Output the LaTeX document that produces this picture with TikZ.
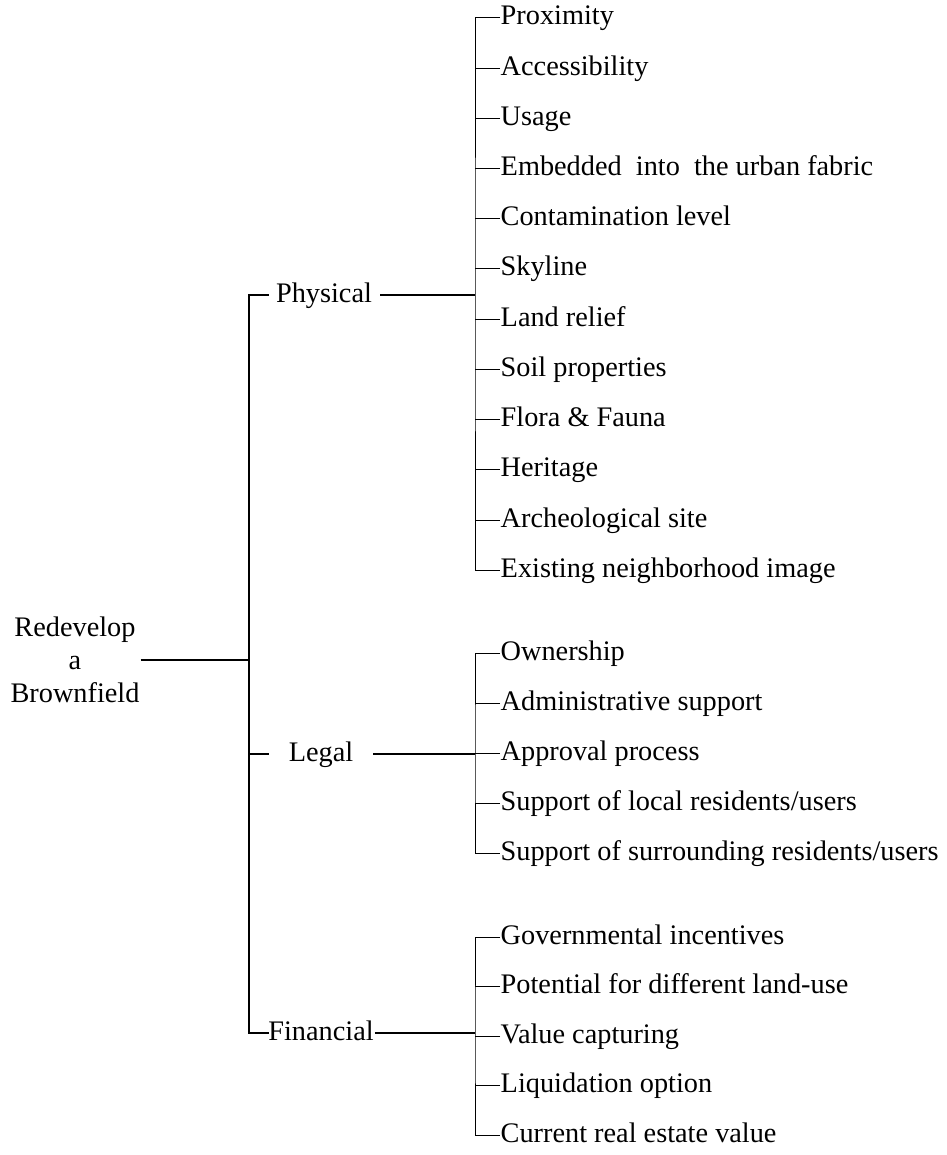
\documentclass[tikz,border=0pt]{standalone}
\usepackage{fontspec}
\setmainfont{Liberation Serif}
\begin{document}
\begin{tikzpicture}[x=1pt,y=-1pt,
  every node/.style={font=\fontsize{28.3}{33}\selectfont, inner ysep=0pt},
  label text/.style={text height=21pt, text depth=7pt},
  item/.style={label text, anchor=west, inner xsep=0.5pt},
  branch/.style={label text, inner xsep=8pt},
  trunkline/.style={line width=2.8pt},
  branchline/.style={line width=1.7pt},
  itemline/.style={line width=1pt}]
\useasboundingbox (0,0) rectangle (946,1155);

% root
\node[align=center, inner xsep=1pt] (root) at (75,660) {Redevelop\\a\\Brownfield};

% branch labels
\node[branch] (phys) at (324,295) {Physical};
\node[branch, inner xsep=20pt] (legal) at (321,754) {Legal};
\node[branch, inner xsep=1pt] (fin) at (321,1033) {Financial};

% trunk
\coordinate (tkT) at (249,295);
\coordinate (tkM) at (249,660);
\coordinate (tkL) at (249,754);
\coordinate (tkB) at (249,1033);
\draw[trunkline] (root.east) -- (tkM);
\draw[trunkline, line cap=rect] (phys.west) -- (tkT) -- (tkB) -- (fin.west);
\draw[trunkline] (tkL) -- (legal.west);

% bars of the item lists
\coordinate (pbar) at (475,295);
\coordinate (lbar) at (475,754);
\coordinate (fbar) at (475,1033);
\draw[branchline] (phys.east) -- (pbar);
\draw[branchline] (legal.east) -- (lbar);
\draw[branchline] (fin.east) -- (fbar);

% physical items
\foreach \t [count=\i] in {Proximity, Accessibility, Usage,
  {Embedded\ \ into\ \ the urban fabric}, Contamination level, Skyline,
  Land relief, Soil properties, Flora \& Fauna, Heritage,
  Archeological site, Existing neighborhood image}
  \node[item] (p\i) at (500,{18+50.2*(\i-1)}) {\t};
\draw[itemline] (p1.west) -| (pbar) |- (p12.west);
\foreach \i in {2,...,11} \draw[itemline] (p\i.west) -- ++(-25,0);

% legal items
\foreach \t [count=\i] in {Ownership, Administrative support, Approval process,
  Support of local residents/users, Support of surrounding residents/users}
  \node[item] (l\i) at (500,{653+50.1*(\i-1)}) {\t};
\draw[itemline] (l1.west) -| (lbar) |- (l5.west);
\foreach \i in {2,...,4} \draw[itemline] (l\i.west) -- ++(-25,0);

% financial items
\foreach \t [count=\i] in {Governmental incentives, Potential for different land-use,
  Value capturing, Liquidation option, Current real estate value}
  \node[item] (f\i) at (500,{937+49.6*(\i-1)}) {\t};
\draw[itemline] (f1.west) -| (fbar) |- (f5.west);
\foreach \i in {2,...,4} \draw[itemline] (f\i.west) -- ++(-25,0);
\end{tikzpicture}
\end{document}
